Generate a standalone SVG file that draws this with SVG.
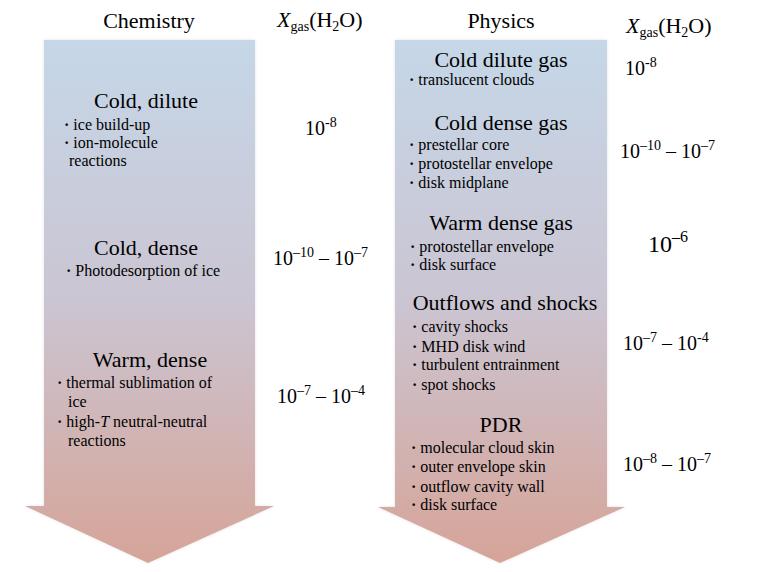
<svg xmlns="http://www.w3.org/2000/svg" width="763" height="572" viewBox="0 0 763 572">
<defs>
<linearGradient id="g" x1="0" y1="40" x2="0" y2="563" gradientUnits="userSpaceOnUse">
<stop offset="0" stop-color="#c5d7e8"/>
<stop offset="0.5" stop-color="#cbc5d2"/>
<stop offset="1" stop-color="#d6a498"/>
</linearGradient>
<filter id="sh" x="-10%" y="-10%" width="120%" height="120%">
<feGaussianBlur in="SourceAlpha" stdDeviation="1.5"/>
<feOffset dx="0" dy="0" result="b"/>
<feFlood flood-color="#000" flood-opacity="0.12"/>
<feComposite in2="b" operator="in"/>
<feMerge><feMergeNode/><feMergeNode in="SourceGraphic"/></feMerge>
</filter>
</defs>
<style>
text{font-family:"Liberation Serif","Times New Roman",serif;fill:#000}
.h{font-size:22px}
.t{font-size:22px;text-anchor:middle}
.b{font-size:16px}
.d{font-weight:bold}
.n{font-size:20px}
.s{font-size:14px}
.sub{font-size:14px}
</style>
<g id="arrow-chemistry">
<polygon points="44,40 255,40 255,506 274,506 148,563 25,506 44,506" fill="url(#g)" filter="url(#sh)"/>
</g>
<g id="arrow-physics">
<polygon points="395,40 607,40 607,507 625,507 500,563 378,507 395,507" fill="url(#g)" filter="url(#sh)"/>
</g>
<g id="headers">
<text class="h" x="149" y="28" text-anchor="middle">Chemistry</text>
<text class="h" x="277" y="27"><tspan font-style="italic">X</tspan><tspan class="sub" dy="4">gas</tspan><tspan dy="-4">(H</tspan><tspan class="sub" dy="4">2</tspan><tspan dy="-4">O)</tspan></text>
<text class="h" x="501" y="28" text-anchor="middle">Physics</text>
<text class="h" x="626" y="33"><tspan font-style="italic">X</tspan><tspan class="sub" dy="4">gas</tspan><tspan dy="-4">(H</tspan><tspan class="sub" dy="4">2</tspan><tspan dy="-4">O)</tspan></text>
</g>
<g id="chem-cold-dilute">
<text class="t" x="146" y="108">Cold, dilute</text>
<text class="b" x="64" y="130"><tspan class="d">·</tspan> ice build-up</text>
<text class="b" x="64" y="148"><tspan class="d">·</tspan> ion-molecule</text>
<text class="b" x="69" y="166">reactions</text>
<text class="n" x="305" y="135">10<tspan class="s" dy="-8">-8</tspan></text>
</g>
<g id="chem-cold-dense">
<text class="t" x="146" y="255">Cold, dense</text>
<text class="b" x="66" y="276"><tspan class="d">·</tspan> Photodesorption of ice</text>
<text class="n" x="273" y="265">10<tspan class="s" dy="-8">–10</tspan><tspan dy="8"> – 10</tspan><tspan class="s" dy="-8">–7</tspan></text>
</g>
<g id="chem-warm-dense">
<text class="t" x="150" y="367">Warm, dense</text>
<text class="b" x="57" y="388"><tspan class="d">·</tspan> thermal sublimation of</text>
<text class="b" x="68" y="407">ice</text>
<text class="b" x="57" y="427"><tspan class="d">·</tspan> high-<tspan font-style="italic">T</tspan> neutral-neutral</text>
<text class="b" x="68" y="446">reactions</text>
<text class="n" x="277" y="403">10<tspan class="s" dy="-8">–7</tspan><tspan dy="8"> – 10</tspan><tspan class="s" dy="-8">–4</tspan></text>
</g>
<g id="phys-cold-dilute-gas">
<text class="t" x="501" y="67">Cold dilute gas</text>
<text class="b" x="409" y="85"><tspan class="d">·</tspan> translucent clouds</text>
<text class="n" x="625" y="75">10<tspan class="s" dy="-8">-8</tspan></text>
</g>
<g id="phys-cold-dense-gas">
<text class="t" x="501" y="130">Cold dense gas</text>
<text class="b" x="409" y="150"><tspan class="d">·</tspan> prestellar core</text>
<text class="b" x="409" y="169"><tspan class="d">·</tspan> protostellar envelope</text>
<text class="b" x="409" y="188"><tspan class="d">·</tspan> disk midplane</text>
<text class="n" x="620" y="158">10<tspan class="s" dy="-8">–10</tspan><tspan dy="8"> – 10</tspan><tspan class="s" dy="-8">–7</tspan></text>
</g>
<g id="phys-warm-dense-gas">
<text class="t" x="501" y="230">Warm dense gas</text>
<text class="b" x="410" y="252"><tspan class="d">·</tspan> protostellar envelope</text>
<text class="b" x="410" y="270"><tspan class="d">·</tspan> disk surface</text>
<text x="648" y="252" font-size="24px">10<tspan font-size="16px" dy="-10">–6</tspan></text>
</g>
<g id="phys-outflows">
<text class="t" x="505" y="310">Outflows and shocks</text>
<text class="b" x="412" y="332"><tspan class="d">·</tspan> cavity shocks</text>
<text class="b" x="412" y="352"><tspan class="d">·</tspan> MHD disk wind</text>
<text class="b" x="412" y="370"><tspan class="d">·</tspan> turbulent entrainment</text>
<text class="b" x="412" y="390"><tspan class="d">·</tspan> spot shocks</text>
<text class="n" x="623" y="350">10<tspan class="s" dy="-8">–7</tspan><tspan dy="8"> – 10</tspan><tspan class="s" dy="-8">-4</tspan></text>
</g>
<g id="phys-pdr">
<text class="t" x="501" y="432">PDR</text>
<text class="b" x="411" y="453"><tspan class="d">·</tspan> molecular cloud skin</text>
<text class="b" x="411" y="472"><tspan class="d">·</tspan> outer envelope skin</text>
<text class="b" x="411" y="492"><tspan class="d">·</tspan> outflow cavity wall</text>
<text class="b" x="411" y="510"><tspan class="d">·</tspan> disk surface</text>
<text class="n" x="623" y="471">10<tspan class="s" dy="-8">–8</tspan><tspan dy="8"> – 10</tspan><tspan class="s" dy="-8">–7</tspan></text>
</g>
<g id="connectors"></g>
</svg>
